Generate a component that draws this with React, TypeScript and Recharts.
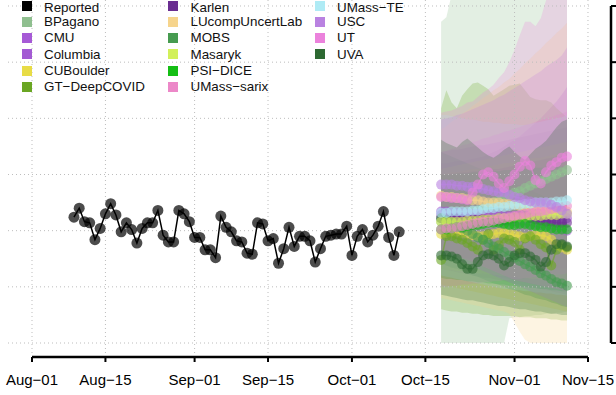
import React from 'react';
import { ComposedChart, Line, Area, XAxis, YAxis, ReferenceLine } from 'recharts';

// x axis: days since Aug-01
const tickDays = [0, 14, 31, 45, 61, 75, 92, 106];
const tickLabels = ['Aug−01', 'Aug−15', 'Sep−01', 'Sep−15', 'Oct−01', 'Oct−15', 'Nov−01', 'Nov−15'];
const valueTicks = [0, 50, 100, 150, 200, 250, 300];

const reportedStart = 8;
const reported = [112, 120, 108, 107, 92, 102, 115, 124, 114, 99, 107, 101, 89, 102, 107, 107, 118, 96, 90, 90,
  118, 115, 108, 94, 94, 83, 83, 76, 113, 103, 99, 91, 90, 80, 79, 107, 106, 91, 93, 71, 84, 103, 86, 95, 95, 91,
  72, 84, 95, 96, 97, 97, 104, 78, 95, 101, 90, 96, 104, 117, 94, 78, 99];

const forecastStart = 78;

const bpaganoMid = [108, 109, 109, 111, 113, 115, 117, 118, 120, 123, 125, 127, 129, 131, 134, 135, 138, 140, 142, 144, 146, 148, 150, 152, 154];
const bpaganoLo = [0, 0, 0, 0, 0, 0, 0, 0, 0, 0, 0, 0, 0, 22, 23, 23, 24, 24, 25, 25, 26, 26, 27, 27, 28];
const bpaganoHi = [286, 290, 310, 318, 322, 326, 330, 334, 338, 342, 346, 350, 355, 360, 364, 368, 372, 376, 380, 385, 390, 394, 398, 402, 406];

const cmuMid = [117, 117, 116, 116, 116, 115, 115, 115, 114, 114, 114, 114, 113, 113, 113, 113, 112, 112, 112, 112, 112, 111, 111, 111, 111];
const cmuLo = [66, 65, 64, 63, 62, 61, 60, 59, 58, 58, 57, 56, 55, 54, 53, 52, 51, 50, 49, 48, 47, 46, 45, 44, 43];
const cmuHi = [170, 171, 172, 172, 173, 174, 175, 176, 176, 177, 178, 179, 180, 181, 182, 183, 184, 185, 186, 187, 188, 189, 190, 191, 192];

const columbiaMid = [114, 114, 113, 113, 112, 111, 111, 110, 110, 109, 109, 109, 109, 108, 108, 107, 107, 106, 106, 105, 104, 103, 102, 101, 100];
const columbiaLo = [70, 69, 68, 67, 66, 65, 64, 63, 62, 61, 60, 59, 58, 57, 56, 55, 54, 53, 52, 51, 50, 49, 48, 47, 46];
const columbiaHi = [160, 160, 161, 162, 162, 163, 164, 165, 166, 168, 170, 172, 175, 178, 181, 184, 188, 192, 196, 200, 205, 210, 215, 221, 228];

const cuboulderMid = [97, 98, 99, 99, 98, 97, 96, 95, 95, 96, 97, 98, 98, 97, 96, 95, 94, 95, 96, 96, 95, 92, 87, 85, 83];
const cuboulderLo = [52, 51, 50, 49, 48, 47, 46, 45, 44, 43, 42, 41, 40, 39, 38, 37, 36, 35, 34, 33, 32, 31, 30, 29, 28];
const cuboulderHi = [150, 151, 152, 152, 153, 154, 155, 155, 156, 157, 158, 159, 160, 160, 161, 162, 163, 164, 165, 165, 166, 167, 168, 169, 170];

const gtMid = [74, 95, 95, 93, 92, 89, 86, 83, 92, 97, 83, 87, 93, 92, 90, 83, 93, 95, 92, 88, 85, 69, 83, 87, 85];
const gtLo = [30, 29, 28, 28, 27, 27, 26, 26, 25, 25, 24, 24, 24, 24, 24, 23, 23, 23, 22, 22, 22, 21, 21, 20, 20];
const gtHi = [209, 225, 214, 209, 220, 226, 231, 232, 229, 226, 220, 223, 226, 229, 230, 231, 225, 219, 217, 216, 216, 214, 209, 205, 201];

const karlenMid = [111, 111, 111, 111, 110, 110, 110, 110, 110, 109, 109, 109, 109, 110, 111, 112, 112, 111, 110, 109, 108, 108, 107, 107, 107];
const karlenLo = [78, 77, 77, 76, 76, 75, 75, 74, 74, 73, 73, 72, 72, 71, 71, 70, 70, 69, 69, 68, 68, 67, 67, 66, 66];
const karlenHi = [150, 150, 151, 151, 152, 152, 153, 153, 154, 154, 155, 155, 156, 157, 158, 159, 160, 161, 162, 163, 164, 165, 166, 167, 168];

const lucompMid = [131, 130, 130, 129, 129, 128, 127, 127, 126, 125, 125, 125, 124, 124, 123, 122, 122, 121, 120, 120, 119, 118, 118, 117, 117];
const lucompLo = [40, 39, 38, 37, 36, 35, 34, 33, 32, 31, 30, 29, 28, 26, 18, 10, 3, 0, 0, 0, 0, 0, 0, 0, 0];
const lucompHi = [190, 193, 197, 200, 204, 207, 211, 214, 218, 221, 225, 228, 232, 235, 240, 244, 249, 253, 258, 262, 267, 271, 276, 280, 285];

const mobsMid = [111, 109, 107, 104, 102, 100, 97, 94, 92, 89, 86, 84, 81, 78, 76, 73, 70, 68, 65, 62, 60, 57, 54, 53, 51];
const mobsLo = [71, 69, 67, 66, 64, 62, 60, 59, 57, 55, 53, 52, 50, 48, 47, 45, 43, 42, 40, 39, 38, 36, 35, 33, 32];
const mobsHi = [170, 168, 166, 164, 162, 160, 158, 156, 154, 152, 150, 148, 146, 144, 142, 140, 138, 136, 134, 132, 130, 128, 126, 124, 122];

const masarykMid = [108, 108, 108, 108, 108, 109, 109, 109, 110, 110, 110, 111, 111, 111, 112, 112, 112, 113, 113, 113, 114, 114, 114, 115, 115];
const masarykLo = [66, 65, 65, 64, 64, 63, 63, 62, 62, 61, 61, 60, 60, 59, 59, 58, 58, 57, 57, 56, 56, 55, 55, 54, 54];
const masarykHi = [155, 156, 157, 158, 159, 160, 161, 162, 163, 164, 165, 166, 167, 168, 169, 170, 171, 172, 173, 174, 175, 176, 177, 178, 179];

const psiMid = [101, 101, 102, 103, 103, 104, 105, 105, 106, 107, 107, 107, 106, 105, 105, 106, 106, 105, 104, 103, 103, 102, 101, 101, 101];
const psiLo = [58, 57, 57, 56, 56, 55, 55, 54, 54, 53, 53, 52, 52, 51, 51, 50, 50, 49, 49, 48, 48, 47, 47, 46, 46];
const psiHi = [150, 150, 150, 151, 151, 151, 152, 152, 152, 153, 153, 153, 154, 154, 154, 155, 155, 155, 156, 156, 156, 157, 157, 157, 158];

const sarixMid = [101, 102, 102, 103, 104, 105, 106, 107, 108, 108, 109, 110, 111, 112, 113, 114, 115, 116, 117, 117, 118, 119, 120, 121, 122];
const sarixLo = [50, 50, 51, 51, 52, 52, 53, 53, 54, 54, 55, 55, 56, 56, 57, 57, 58, 58, 59, 59, 60, 60, 61, 61, 62];
const sarixHi = [170, 171, 173, 174, 176, 177, 179, 180, 182, 183, 185, 186, 188, 189, 191, 192, 194, 195, 197, 198, 200, 201, 203, 204, 206];

const teMid = [116, 116, 117, 117, 117, 117, 118, 118, 119, 120, 120, 121, 121, 122, 123, 123, 124, 124, 125, 125, 125, 125, 126, 126, 127];
const teLo = [60, 59, 58, 57, 56, 55, 54, 53, 52, 51, 50, 49, 48, 48, 47, 47, 46, 46, 45, 45, 44, 44, 43, 43, 42];
const teHi = [203, 203, 202, 201, 200, 199, 199, 198, 197, 197, 196, 196, 195, 195, 195, 194, 194, 195, 196, 197, 198, 199, 200, 201, 203];

const uscMid = [141, 141, 141, 140, 140, 139, 139, 138, 137, 136, 135, 134, 134, 132, 130, 129, 127, 126, 125, 125, 125, 123, 121, 118, 115];
const uscLo = [80, 78, 76, 74, 72, 70, 68, 66, 64, 62, 60, 58, 56, 54, 52, 50, 48, 46, 44, 42, 40, 38, 36, 34, 32];
const uscHi = [199, 200, 201, 203, 204, 206, 208, 210, 212, 214, 216, 219, 221, 224, 227, 230, 233, 236, 239, 242, 246, 249, 252, 256, 263];

const utMid = [130, 130, 129, 129, 128, 127, 134, 141, 150, 152, 148, 142, 138, 144, 150, 157, 162, 158, 145, 142, 152, 158, 161, 165, 166];
const utLo = [83, 82, 80, 78, 76, 74, 72, 70, 68, 66, 64, 62, 60, 58, 56, 55, 54, 53, 52, 51, 50, 49, 48, 47, 46];
const utHi = [205, 206, 207, 209, 211, 214, 215, 219, 223, 226, 230, 236, 241, 250, 261, 274, 286, 286, 282, 289, 305, 314, 323, 332, 341];

const uvaMid = [78, 78, 77, 75, 70, 66, 66, 72, 78, 79, 78, 75, 69, 72, 78, 80, 80, 77, 74, 68, 72, 83, 88, 88, 86];
const uvaLo = [43, 42, 41, 40, 39, 38, 38, 37, 36, 35, 34, 33, 33, 32, 31, 30, 30, 29, 28, 28, 27, 26, 26, 25, 25];
const uvaHi = [181, 178, 176, 174, 179, 182, 178, 174, 170, 167, 165, 168, 172, 175, 170, 166, 163, 168, 173, 176, 180, 186, 192, 197, 199];

const models = [
  { name: 'BPagano', color: '#8fbf8f', mid: bpaganoMid, lo: bpaganoLo, hi: bpaganoHi },
  { name: 'CMU', color: '#a65ad6', mid: cmuMid, lo: cmuLo, hi: cmuHi },
  { name: 'Columbia', color: '#a35bd3', mid: columbiaMid, lo: columbiaLo, hi: columbiaHi },
  { name: 'CUBoulder', color: '#e8dc46', mid: cuboulderMid, lo: cuboulderLo, hi: cuboulderHi },
  { name: 'GT−DeepCOVID', color: '#6aa623', mid: gtMid, lo: gtLo, hi: gtHi },
  { name: 'Karlen', color: '#6a2d91', mid: karlenMid, lo: karlenLo, hi: karlenHi },
  { name: 'LUcompUncertLab', color: '#f6d48c', mid: lucompMid, lo: lucompLo, hi: lucompHi },
  { name: 'MOBS', color: '#469b50', mid: mobsMid, lo: mobsLo, hi: mobsHi },
  { name: 'Masaryk', color: '#d2f05a', mid: masarykMid, lo: masarykLo, hi: masarykHi },
  { name: 'PSI−DICE', color: '#14be14', mid: psiMid, lo: psiLo, hi: psiHi },
  { name: 'UMass−sarix', color: '#ec88c8', mid: sarixMid, lo: sarixLo, hi: sarixHi },
  { name: 'UMass−TE', color: '#afebf5', mid: teMid, lo: teLo, hi: teHi },
  { name: 'USC', color: '#b982e1', mid: uscMid, lo: uscLo, hi: uscHi },
  { name: 'UT', color: '#eb82dc', mid: utMid, lo: utLo, hi: utHi },
  { name: 'UVA', color: '#2d6932', mid: uvaMid, lo: uvaLo, hi: uvaHi },
];

const legendItems = [{ name: 'Reported', color: '#000000' }, ...models];

// scales chosen so the plot box matches the R device
const dMin = -4.576;
const dMax = 110.39;
const yMin = -12.46;
const yMax = 305.34;

const rows: any[] = [];
for (let d = reportedStart; d < forecastStart + bpaganoMid.length; d++) {
  const row: any = { day: d };
  const ri = d - reportedStart;
  if (ri >= 0 && ri < reported.length) row.reported = reported[ri];
  const fi = d - forecastStart;
  if (fi >= 0) {
    models.forEach((m, j) => {
      row['m' + j] = m.mid[fi];
      row['b' + j] = [m.lo[fi], m.hi[fi]];
    });
  }
  rows.push(row);
}

const font = '"Liberation Sans", Arial, sans-serif';

export default function App() {
  return (
    <div style={{ position: 'absolute', left: 0, top: 0, width: 616, height: 395, fontFamily: font, background: '#fff' }}>
      <ComposedChart width={616} height={395} data={rows} margin={{ top: 0, right: 0, bottom: 0, left: 8 }}>
        <XAxis
          dataKey="day"
          type="number"
          domain={[dMin, dMax]}
          allowDataOverflow
          ticks={tickDays}
          interval={0}
          tickFormatter={(d) => tickLabels[tickDays.indexOf(d)]}
          axisLine={false}
          tickLine={{ stroke: '#000', strokeWidth: 2 }}
          tickSize={5}
          tickMargin={12}
          height={38}
          tick={{ fontSize: 15, fill: '#000', fontFamily: font }}
        />
        <YAxis
          orientation="right"
          type="number"
          domain={[yMin, yMax]}
          allowDataOverflow
          ticks={valueTicks}
          interval={0}
          width={5}
          axisLine={false}
          tickLine={{ stroke: '#000', strokeWidth: 2 }}
          tickSize={6}
          tickFormatter={() => ''}
        />

        {/* dotted grid */}
        {valueTicks.map((v) => (
          <ReferenceLine key={'h' + v} segment={[{ x: dMin, y: v }, { x: 106.6, y: v }]}
            stroke="#bdbdbd" strokeDasharray="1 3" ifOverflow="visible" />
        ))}
        {tickDays.map((d) => (
          <ReferenceLine key={'v' + d} segment={[{ x: d, y: yMax }, { x: d, y: -8.9 }]}
            stroke="#bdbdbd" strokeDasharray="1 3" ifOverflow="visible" />
        ))}

        {/* prediction bands */}
        {models.map((m, j) => (
          <Area key={'band' + j} type="linear" dataKey={(r: any) => r['b' + j]} fill={m.color} fillOpacity={0.25}
            stroke="none" dot={false} activeDot={false} isAnimationActive={false} />
        ))}

        <Line type="linear" dataKey="reported" stroke="#000" strokeWidth={1.5}
          dot={{ r: 5.5, fill: '#000', fillOpacity: 0.7, stroke: 'none' }} activeDot={false} isAnimationActive={false} />

        {models.map((m, j) => (
          <Line key={'line' + j} type="linear" dataKey={'m' + j} stroke={m.color} strokeOpacity={0.6} strokeWidth={1.5}
            dot={{ r: 5, fill: m.color, fillOpacity: 0.6, stroke: 'none' }} activeDot={false} isAnimationActive={false} />
        ))}

        {/* R style axis lines */}
        <ReferenceLine segment={[{ x: 0, y: yMin }, { x: 106, y: yMin }]} stroke="#000" strokeWidth={2.5} ifOverflow="visible" />
        <ReferenceLine segment={[{ x: dMax, y: 0 }, { x: dMax, y: 300 }]} stroke="#000" strokeWidth={2.5} ifOverflow="visible" />
      </ComposedChart>

      {legendItems.map((it, i) => {
        const col = Math.floor(i / 6);
        const row = i % 6;
        const sx = [22, 168, 315][col];
        const tx = [44, 190.5, 337][col];
        const cy = 5.5 + row * 16.25;
        return (
          <React.Fragment key={it.name}>
            <div style={{ position: 'absolute', left: sx, top: cy - 5, width: 10, height: 10, background: it.color }} />
            <div style={{ position: 'absolute', left: tx, top: Math.max(0, cy - 7.6), fontSize: 13.4, color: '#111', whiteSpace: 'nowrap' }}>
              {it.name}
            </div>
          </React.Fragment>
        );
      })}
    </div>
  );
}
